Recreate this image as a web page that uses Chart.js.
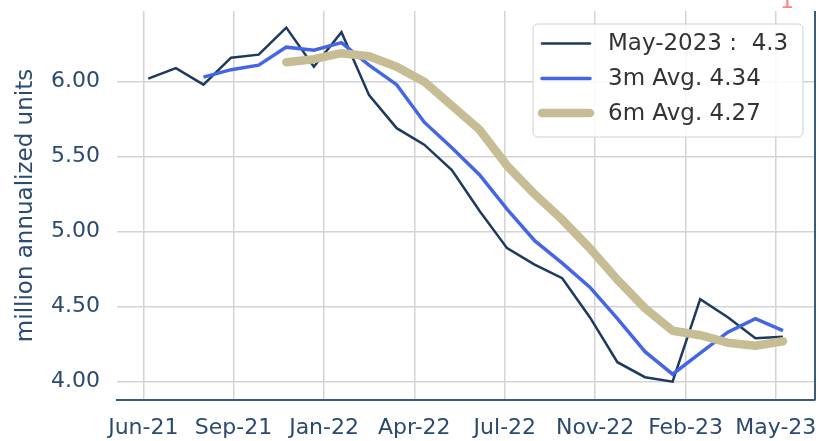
<!DOCTYPE html>
<html>
<head>
<meta charset="utf-8">
<script src="https://cdn.jsdelivr.net/npm/chart.js@4.4.0/dist/chart.umd.min.js"></script>
<style>
    html, body { margin: 0; padding: 0; background: #ffffff; }
    #wrap { width: 819px; height: 441px; position: relative; }
</style>
</head>
<body>
<div id="wrap"><canvas id="starts"></canvas></div>
<script>
// Monthly series, Jun-21 .. May-23 (million annualized units)
const months = ['Jun-21', 'Jul-21', 'Aug-21', 'Sep-21', 'Oct-21', 'Nov-21', 'Dec-21',
    'Jan-22', 'Feb-22', 'Mar-22', 'Apr-22', 'May-22', 'Jun-22', 'Jul-22', 'Aug-22',
    'Sep-22', 'Oct-22', 'Nov-22', 'Dec-22', 'Jan-23', 'Feb-23', 'Mar-23', 'Apr-23', 'May-23'];

const monthly = [6.02, 6.09, 5.98, 6.16, 6.18, 6.36, 6.10, 6.33, 5.91, 5.69, 5.58, 5.41,
    5.14, 4.89, 4.78, 4.69, 4.43, 4.13, 4.03, 4.00, 4.55, 4.43, 4.29, 4.30];

const avg3m = [null, null, 6.03, 6.08, 6.11, 6.23, 6.21, 6.26, 6.11, 5.98, 5.73, 5.56,
    5.38, 5.15, 4.94, 4.79, 4.63, 4.42, 4.20, 4.05, 4.19, 4.33, 4.42, 4.34];

const avg6m = [null, null, null, null, null, 6.13, 6.15, 6.19, 6.17, 6.10, 6.00, 5.84,
    5.68, 5.44, 5.25, 5.08, 4.89, 4.68, 4.49, 4.34, 4.31, 4.26, 4.24, 4.27];

const seriesLabels = ['May-2023 :  4.3', '3m Avg. 4.34', '6m Avg. 4.27'];

// date ticks sit between months (month index units)
const xTickLabels = ['Jun-21', 'Sep-21', 'Jan-22', 'Apr-22', 'Jul-22', 'Nov-22', 'Feb-23', 'May-23'];
const xTickAt = [-0.18, 3.09, 6.37, 9.64, 12.92, 16.19, 19.47, 22.74];
const yTicks = [4.0, 4.5, 5.0, 5.5, 6.0];

const NAVY = '#1d3a5e';
const BLUE = '#4466e6';
const TAN = '#c6bd95';
const AXIS = '#3b5a82';
const TICK = '#2c4a70';
const GRID = '#d4d4d4';

Chart.defaults.font.family = 'DejaVu Sans';

const toPoints = arr => arr.map((v, i) => ({ x: i, y: v })).filter(p => p.y !== null);

// matplotlib-ish legend box, right spine and the cut-off marker at top
const extrasPlugin = {
    id: 'extras',
    afterDraw(chart) {
        const ctx = chart.ctx;
        const area = chart.chartArea;
        ctx.save();

        // right spine
        ctx.strokeStyle = AXIS;
        ctx.lineWidth = 2;
        ctx.beginPath();
        ctx.moveTo(area.right, area.top);
        ctx.lineTo(area.right, area.bottom);
        ctx.stroke();

        // legend
        const bx = 533, by = 24, bw = 270, bh = 113;
        ctx.fillStyle = 'rgba(255, 255, 255, 0.85)';
        ctx.strokeStyle = '#d0d0d0';
        ctx.lineWidth = 1;
        ctx.beginPath();
        ctx.roundRect(bx, by, bw, bh, 5);
        ctx.fill();
        ctx.stroke();

        const rows = [43.5, 78.5, 113];
        ctx.font = '23px DejaVu Sans';
        ctx.textBaseline = 'middle';
        ctx.textAlign = 'left';
        chart.data.datasets.forEach((ds, i) => {
            ctx.strokeStyle = ds.borderColor;
            ctx.lineWidth = ds.borderWidth;
            ctx.lineCap = 'round';
            ctx.beginPath();
            ctx.moveTo(542, rows[i]);
            ctx.lineTo(590, rows[i]);
            ctx.stroke();
            ctx.fillStyle = '#333333';
            ctx.fillText(ds.label, 608, rows[i] + 1);
        });

        // partially visible annotation above the plot
        ctx.fillStyle = '#ff8080';
        ctx.textAlign = 'center';
        ctx.textBaseline = 'alphabetic';
        ctx.font = '22px DejaVu Sans';
        ctx.fillText('1', 787, 8);

        ctx.restore();
    }
};

new Chart(document.getElementById('starts').getContext('2d'), {
    type: 'line',
    data: {
        datasets: [{
            label: seriesLabels[0],
            data: toPoints(monthly),
            borderColor: NAVY,
            borderWidth: 2.5,
            pointRadius: 0,
            order: 3
        }, {
            label: seriesLabels[1],
            data: toPoints(avg3m),
            borderColor: BLUE,
            borderWidth: 3.5,
            pointRadius: 0,
            order: 2
        }, {
            label: seriesLabels[2],
            data: toPoints(avg6m),
            borderColor: TAN,
            borderWidth: 8.5,
            borderCapStyle: 'round',
            borderJoinStyle: 'round',
            pointRadius: 0,
            order: 1
        }]
    },
    options: {
        responsive: true,
        maintainAspectRatio: false,
        animation: false,
        layout: { padding: { left: 0, right: 4, top: 11, bottom: 0 } },
        plugins: {
            legend: { display: false },
            tooltip: { enabled: false }
        },
        scales: {
            x: {
                type: 'linear',
                min: -1.134,
                max: 24.16,
                afterBuildTicks: scale => {
                    scale.ticks = xTickAt.map(v => ({ value: v }));
                },
                afterFit: scale => {
                    scale.height = 41;
                    scale.paddingLeft = 0;
                    scale.paddingRight = 0;
                },
                grid: { color: GRID, lineWidth: 1.5, drawTicks: false },
                border: { display: true, color: AXIS, width: 2 },
                ticks: {
                    color: TICK,
                    font: { size: 22 },
                    padding: 15,
                    maxRotation: 0,
                    autoSkip: false,
                    callback: (value, index) => xTickLabels[index]
                }
            },
            y: {
                min: 3.878,
                max: 6.471,
                afterBuildTicks: scale => {
                    scale.ticks = yTicks.map(v => ({ value: v }));
                },
                afterFit: scale => {
                    scale.width = 117;
                    scale.paddingTop = 0;
                    scale.paddingBottom = 0;
                },
                grid: { color: GRID, lineWidth: 1.5, drawTicks: false },
                border: { display: false },
                ticks: {
                    color: TICK,
                    font: { size: 22 },
                    padding: 17,
                    callback: value => value.toFixed(2)
                },
                title: {
                    display: true,
                    text: 'million annualized units',
                    color: TICK,
                    font: { size: 23 },
                    padding: { top: 12, bottom: 0 }
                }
            }
        }
    },
    plugins: [extrasPlugin]
});
</script>
</body>
</html>
